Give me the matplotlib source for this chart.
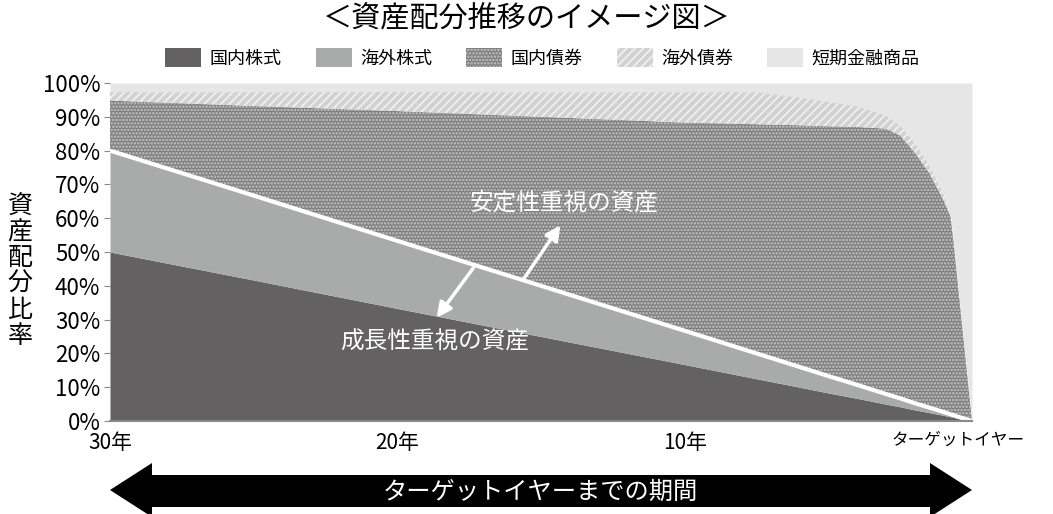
import numpy as np
import matplotlib
matplotlib.use("Agg")
import matplotlib.pyplot as plt
import matplotlib.transforms as mtransforms
from matplotlib.patches import Polygon, Patch

plt.rcParams['font.family'] = ['Noto Sans CJK JP', 'DejaVu Sans']
plt.rcParams['hatch.linewidth'] = 1.2

# years remaining until the target year
years_left = [30, 25, 20, 15, 10, 7.5, 6, 5, 4, 3, 2.5, 2, 1.5, 1, 0.75, 0.65, 0.5, 0.25, 0]
dom_stock = [50, 41.7, 33.3, 25, 16.7, 12.5, 10, 8.3, 6.7, 5, 4.2, 3.3, 2.5, 1.7, 1.25, 1.1, 0.8, 0.4, 0]
for_stock = [30, 25, 20, 15, 10, 7.5, 6, 5, 4, 3, 2.5, 2, 1.5, 1, 0.75, 0.65, 0.5, 0.25, 0]
dom_bond = [14.8, 26.5, 38.4, 50, 61.6, 67.8, 71.5, 73.9, 76.3, 78.5, 77.8, 74.2, 69.5, 62.8, 58.5, 51.8, 39.7, 19.8, 0]
for_bond = [2.6, 4.2, 5.8, 7.4, 9.1, 9.6, 8.3, 7.3, 6.2, 4.0, 3.0, 3.0, 2.5, 2.0, 0, 0, 0, 0, 0]

labels = ["国内株式", "海外株式", "国内債券", "海外債券", "短期金融商品"]
x_ticks = [30, 20, 10, 0]
x_ticklabels = ["30年", "20年", "10年", "ターゲットイヤー"]
y_ticks = list(range(0, 101, 10))

title = "＜資産配分推移のイメージ図＞"
ylabel = "資産配分比率"
period_text = "ターゲットイヤーまでの期間"
stable_text = "安定性重視の資産"
growth_text = "成長性重視の資産"

W, H = 1053, 514
fig = plt.figure(figsize=(W / 100, H / 100), dpi=100)
ax = fig.add_axes([110 / W, 1 - 421 / H, (972 - 110) / W, (421 - 83) / H])

x = np.array(years_left)
layers = np.vstack([dom_stock, for_stock, dom_bond, for_bond])
short = 100 - layers.sum(axis=0)
layers = np.vstack([layers, short])
tops = np.cumsum(layers, axis=0)
bottoms = np.vstack([np.zeros_like(x), tops[:-1]])

styles = [
    dict(facecolor="#636162", edgecolor="#636162", hatch=None),
    dict(facecolor="#a9aaaa", edgecolor="#a9aaaa", hatch=None),
    dict(facecolor="#7d7d7d", edgecolor="#c8c8c8", hatch="....."),
    dict(facecolor="#d2d2d2", edgecolor="#f2f2f2", hatch="////"),
    dict(facecolor="#e6e6e6", edgecolor="#e6e6e6", hatch=None),
]

handles = []
for i, st in enumerate(styles):
    ax.fill_between(x, bottoms[i], tops[i], facecolor=st["facecolor"],
                    edgecolor=st["edgecolor"], hatch=st["hatch"], linewidth=0)
    handles.append(Patch(facecolor=st["facecolor"], edgecolor=st["edgecolor"],
                         hatch=st["hatch"], linewidth=0, label=labels[i]))

# white divider between stocks and bonds
ax.plot(x, tops[1], color="white", lw=3, solid_capstyle="butt")

ax.set_xlim(30, 0)
ax.set_ylim(0, 100)
ax.set_xticks(x_ticks)
ax.set_xticklabels(x_ticklabels, fontsize=15)
ax.set_yticks(y_ticks)
ax.set_yticklabels([f"{v}%" for v in y_ticks], fontsize=16)
ax.tick_params(axis="x", length=0, pad=8)
ax.tick_params(axis="y", length=4, color="#888888", pad=3)
for s in ["top", "right", "left"]:
    ax.spines[s].set_visible(False)
ax.spines["bottom"].set_color("#888888")
ax.spines["bottom"].set_linewidth(1.5)

# the target-year label is narrower and sits a little left of the axis end
last = ax.get_xticklabels()[-1]
last.set_fontsize(12)
last.set_transform(last.get_transform() + mtransforms.ScaledTranslation(-0.14, 0, fig.dpi_scale_trans))

# arrows and labels inside the plot
ax.annotate("", xy=(14.27, 58.6), xytext=(15.63, 41.7),
            arrowprops=dict(arrowstyle="-|>", color="white", lw=2.5, mutation_scale=22))
ax.annotate("", xy=(18.69, 29.9), xytext=(17.3, 45.9),
            arrowprops=dict(arrowstyle="-|>", color="white", lw=2.5, mutation_scale=22))
ax.text(14.2, 64.5, stable_text, color="white", fontsize=17, ha="center", va="center")
ax.text(18.7, 23.4, growth_text, color="white", fontsize=17, ha="center", va="center")

fig.text(0.5, 1 - 19 / H, title, fontsize=21, ha="center", va="center")
fig.legend(handles=handles, loc="center", bbox_to_anchor=(0.515, 1 - 58 / H), ncol=5,
           frameon=False, fontsize=13, handlelength=2.0, handleheight=1.2,
           handletextpad=0.45, columnspacing=1.9)
fig.text(20 / W, 1 - 271 / H, "\n".join(ylabel), fontsize=18, ha="center", va="center",
         linespacing=1.0)

# bottom double arrow
pts = [(110, 490), (152, 463), (152, 475), (930, 475), (930, 463), (972, 490),
       (930, 517), (930, 507), (152, 507), (152, 517)]
fig.add_artist(Polygon([(px / W, 1 - py / H) for px, py in pts], closed=True,
                       facecolor="black", edgecolor="none", transform=fig.transFigure))
fig.text(540 / W, 1 - 492 / H, period_text, color="white", fontsize=17.5,
         ha="center", va="center")

fig.savefig("out.png", dpi=100)
